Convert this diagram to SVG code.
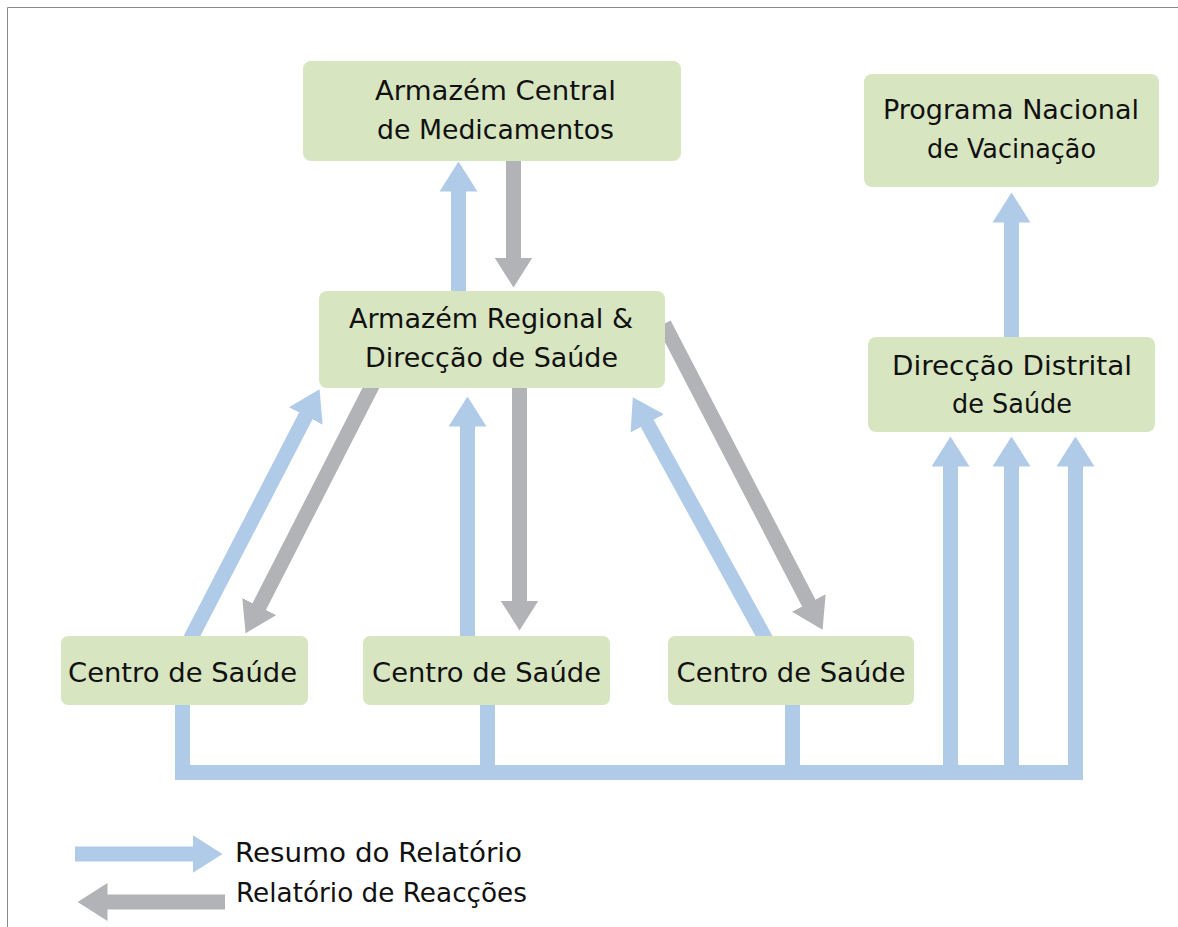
<svg xmlns="http://www.w3.org/2000/svg" width="1178" height="927" viewBox="0 0 1178 927">
  <style>
    .box { fill: #D8E5C1; }
    .t { font-family: "DejaVu Sans", "Liberation Sans", sans-serif; font-size: 27px; fill: #111; text-anchor: middle; }
    .lt { font-family: "DejaVu Sans", "Liberation Sans", sans-serif; font-size: 27px; fill: #111; }
    .b { fill: none; stroke: #B0CBE8; stroke-width: 15; marker-end: url(#hb); }
    .g { fill: none; stroke: #B1B3B6; stroke-width: 15; marker-end: url(#hg); }
    .bus { fill: none; stroke: #B0CBE8; stroke-width: 15; }
  </style>
  <defs>
    <marker id="hb" viewBox="0 0 30 38" refX="0.5" refY="19" markerWidth="30" markerHeight="38" markerUnits="userSpaceOnUse" orient="auto">
      <path d="M0,0 L30,19 L0,38 Z" fill="#B0CBE8"/>
    </marker>
    <marker id="hg" viewBox="0 0 30 38" refX="0.5" refY="19" markerWidth="30" markerHeight="38" markerUnits="userSpaceOnUse" orient="auto">
      <path d="M0,0 L30,19 L0,38 Z" fill="#B1B3B6"/>
    </marker>
  </defs>
  <rect width="1178" height="927" fill="#ffffff"/>
  <path d="M7.5,927 V7.5 H1178" fill="none" stroke="#8a8a8a" stroke-width="1"/>

  <g id="connectors">
    <path class="b" d="M458.5,300 V191"/>
    <path class="g" d="M513.5,150 V258"/>
    <path class="b" d="M1011.5,345 V222"/>
    <path class="b" d="M950.5,772 V466"/>
    <path class="b" d="M1011.5,772 V466"/>
    <path class="b" d="M1075.5,772 V466"/>
    <path class="bus" d="M182.5,700 V772.5 M487.5,700 V772.5 M792.5,700 V772.5 M175,772.5 H1083"/>
    <path class="b" d="M467.5,645 V426"/>
    <path class="g" d="M519.5,380 V601"/>
    <path class="b" d="M187.4,644.9 L306,415.5"/>
    <path class="g" d="M376.5,377 L259,607"/>
    <path class="b" d="M770,647 L647,423"/>
    <path class="g" d="M664,324 L809,603.5"/>
  </g>

  <g id="armazem-central">
    <rect class="box" x="303" y="61" width="378" height="100" rx="8"/>
    <text class="t" x="495.5" y="100" textLength="241" lengthAdjust="spacingAndGlyphs">Armazém Central</text>
    <text class="t" x="495.5" y="139" textLength="237" lengthAdjust="spacingAndGlyphs">de Medicamentos</text>
  </g>
  <g id="armazem-regional">
    <rect class="box" x="319" y="291" width="346" height="97" rx="8"/>
    <text class="t" x="491" y="328" textLength="284" lengthAdjust="spacingAndGlyphs">Armazém Regional &amp;</text>
    <text class="t" x="491.5" y="367" textLength="253" lengthAdjust="spacingAndGlyphs">Direcção de Saúde</text>
  </g>
  <g id="programa-nacional">
    <rect class="box" x="864" y="74" width="295" height="113" rx="8"/>
    <text class="t" x="1011" y="119" textLength="256" lengthAdjust="spacingAndGlyphs">Programa Nacional</text>
    <text class="t" x="1011.5" y="158" textLength="169" lengthAdjust="spacingAndGlyphs">de Vacinação</text>
  </g>
  <g id="direccao-distrital">
    <rect class="box" x="868" y="337" width="287" height="95" rx="8"/>
    <text class="t" x="1012" y="375" textLength="240" lengthAdjust="spacingAndGlyphs">Direcção Distrital</text>
    <text class="t" x="1012" y="413" textLength="120" lengthAdjust="spacingAndGlyphs">de Saúde</text>
  </g>
  <g id="centro-1">
    <rect class="box" x="61" y="636" width="247" height="69" rx="7"/>
    <text class="t" x="182.5" y="682" textLength="229" lengthAdjust="spacingAndGlyphs">Centro de Saúde</text>
  </g>
  <g id="centro-2">
    <rect class="box" x="363" y="636" width="247" height="69" rx="7"/>
    <text class="t" x="486.5" y="682" textLength="229" lengthAdjust="spacingAndGlyphs">Centro de Saúde</text>
  </g>
  <g id="centro-3">
    <rect class="box" x="668" y="636" width="246" height="69" rx="7"/>
    <text class="t" x="791" y="682" textLength="229" lengthAdjust="spacingAndGlyphs">Centro de Saúde</text>
  </g>

  <g id="legend">
    <path class="b" d="M75,854 H193"/>
    <path class="g" d="M225,902 H107"/>
    <text class="lt" x="235" y="862" textLength="287" lengthAdjust="spacingAndGlyphs">Resumo do Relatório</text>
    <text class="lt" x="236" y="902" textLength="291" lengthAdjust="spacingAndGlyphs">Relatório de Reacções</text>
  </g>
</svg>
